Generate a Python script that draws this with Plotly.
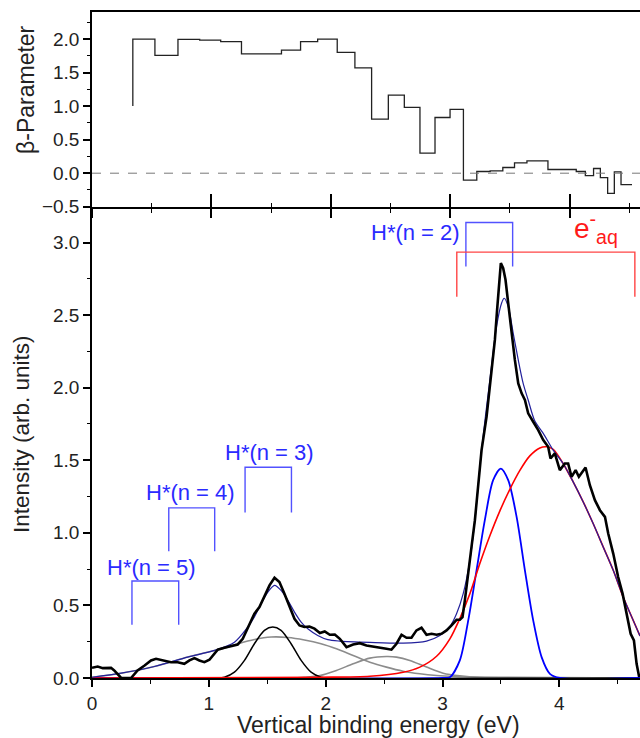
import plotly.graph_objects as go

# ---------------- data: beta parameter (top panel) ----------------
beta_edges = [0.342, 0.527, 0.720, 0.902, 1.078, 1.252, 1.587, 1.747, 1.89, 2.054,
              2.202, 2.342, 2.482, 2.616, 2.747, 2.873, 2.999, 3.111, 3.223, 3.335,
              3.441, 3.539, 3.643, 3.819, 4.056, 4.132, 4.201, 4.258, 4.319, 4.375,
              4.431, 4.523]
beta_values = [2.0, 1.757, 1.995, 1.985, 1.96, 1.78, 1.836, 1.96, 2.0, 1.80,
               1.57, 0.806, 1.164, 0.98, 0.30, 0.83, 0.95, -0.104, 0.025, 0.035,
               0.085, 0.154, 0.184, 0.055, 0.025, -0.035, 0.07, -0.065, -0.30, 0.02,
               -0.17]
beta_start = 1.0

# ---------------- data: spectrum (bottom panel) ----------------
exp_energy = [0.0, 0.049, 0.092, 0.163, 0.19, 0.234, 0.25, 0.334, 0.39, 0.45, 0.505, 0.548,
              0.605, 0.676, 0.733, 0.79, 0.834, 0.877, 0.919, 0.962, 1.005, 1.033, 1.076,
              1.133, 1.19, 1.247, 1.29, 1.333, 1.39, 1.433, 1.476, 1.519, 1.562, 1.604,
              1.647, 1.69, 1.733, 1.776, 1.818, 1.861, 1.904, 1.95, 1.992, 2.035, 2.078,
              2.121, 2.178, 2.235, 2.292, 2.349, 2.406, 2.463, 2.52, 2.563, 2.606, 2.649,
              2.692, 2.734, 2.777, 2.82, 2.863, 2.906, 2.949, 2.991, 3.034, 3.077, 3.12,
              3.148, 3.171, 3.191, 3.22, 3.248, 3.277, 3.334, 3.377, 3.419, 3.448, 3.467,
              3.485, 3.499, 3.519, 3.539, 3.562, 3.591, 3.619, 3.648, 3.677, 3.705, 3.733,
              3.776, 3.819, 3.862, 3.904, 3.924, 3.961, 4.004, 4.047, 4.075, 4.104, 4.139,
              4.167, 4.224, 4.261, 4.304, 4.347, 4.39, 4.418, 4.461, 4.503, 4.541, 4.575,
              4.61, 4.638, 4.661, 4.683]
exp_intensity = [0.07, 0.079, 0.068, 0.07, 0.052, 0.017, 0.0, 0.0, 0.052, 0.086, 0.121, 0.132,
                 0.121, 0.109, 0.109, 0.098, 0.121, 0.137, 0.121, 0.109, 0.126, 0.155, 0.195,
                 0.208, 0.217, 0.231, 0.27, 0.34, 0.443, 0.489, 0.558, 0.638, 0.691, 0.661,
                 0.581, 0.489, 0.408, 0.362, 0.351, 0.355, 0.34, 0.31, 0.321, 0.298, 0.3,
                 0.27, 0.213, 0.231, 0.24, 0.224, 0.217, 0.213, 0.201, 0.195, 0.236, 0.298,
                 0.277, 0.277, 0.328, 0.346, 0.298, 0.305, 0.298, 0.305, 0.328, 0.362, 0.401,
                 0.401, 0.42, 0.535, 0.742, 0.903, 1.087, 1.57, 1.8, 2.099, 2.329, 2.536,
                 2.72, 2.858, 2.823, 2.743, 2.582, 2.375, 2.191, 2.03, 1.961, 1.915, 1.823,
                 1.765, 1.708, 1.639, 1.593, 1.512, 1.547, 1.432, 1.478, 1.478, 1.386, 1.432,
                 1.386, 1.45, 1.328, 1.225, 1.156, 1.11, 0.995, 0.857, 0.696, 0.581, 0.443,
                 0.305, 0.259, 0.098, 0.006]

fit_energy = [0.0, 0.25, 0.534, 0.819, 1.048, 1.219, 1.333, 1.39, 1.447, 1.505, 1.562, 1.618,
              1.676, 1.733, 1.79, 1.847, 1.932, 2.018, 2.121, 2.378, 2.663, 2.863, 2.977,
              3.063, 3.12, 3.177, 3.234, 3.277, 3.334, 3.405, 3.462, 3.505, 3.528, 3.562,
              3.605, 3.648, 3.69, 3.733, 3.79, 3.862, 3.947, 4.032, 4.118, 4.204, 4.289,
              4.375, 4.461, 4.546, 4.632, 4.69]
fit_intensity = [0.005, 0.033, 0.079, 0.144, 0.19, 0.247, 0.351, 0.42, 0.512, 0.592, 0.638, 0.604,
                 0.535, 0.454, 0.385, 0.339, 0.293, 0.264, 0.254, 0.245, 0.24, 0.254, 0.293,
                 0.355, 0.443, 0.581, 0.811, 1.087, 1.57, 2.053, 2.42, 2.582, 2.616, 2.559,
                 2.375, 2.191, 2.03, 1.915, 1.77, 1.685, 1.57, 1.478, 1.351, 1.213, 1.064,
                 0.903, 0.742, 0.558, 0.397, 0.29]

eaq_energy = [0.0, 1.95, 2.378, 2.663, 2.806, 2.949, 3.063, 3.148, 3.234, 3.32, 3.405, 3.49,
              3.576, 3.662, 3.747, 3.833, 3.89, 3.947, 4.032, 4.118, 4.204, 4.289, 4.375,
              4.461, 4.546, 4.632, 4.69]
eaq_intensity = [0.0, 0.005, 0.012, 0.04, 0.075, 0.15, 0.27, 0.41, 0.58, 0.79, 0.98, 1.15,
                 1.30, 1.43, 1.53, 1.585, 1.593, 1.575, 1.478, 1.351, 1.213, 1.064, 0.903,
                 0.742, 0.558, 0.397, 0.29]

h2_energy = [0.0, 3.0, 3.063, 3.148, 3.22, 3.291, 3.362, 3.433, 3.499, 3.562, 3.634, 3.705,
             3.776, 3.848, 3.919, 4.004, 4.69]
h2_intensity = [0.0, 0.0, 0.005, 0.121, 0.397, 0.742, 1.087, 1.363, 1.443, 1.363, 1.11, 0.742,
                0.397, 0.144, 0.029, 0.0, 0.0]

h3_energy = [0.0, 1.05, 1.133, 1.219, 1.305, 1.39, 1.476, 1.547, 1.618, 1.704, 1.79, 1.875,
             1.96, 2.05, 4.69]
h3_intensity = [0.0, 0.0, 0.005, 0.04, 0.121, 0.236, 0.328, 0.351, 0.328, 0.236, 0.121, 0.04,
                0.005, 0.0, 0.0]

bg1_energy = [0.0, 0.25, 0.534, 0.819, 1.048, 1.105, 1.247, 1.39, 1.533, 1.676, 1.818, 1.96,
              2.092, 2.235, 2.378, 2.52, 2.663, 2.806, 2.949, 3.091, 3.32, 4.69]
bg1_intensity = [0.005, 0.033, 0.079, 0.144, 0.19, 0.2, 0.235, 0.265, 0.282, 0.279, 0.262, 0.236,
                 0.201, 0.155, 0.109, 0.075, 0.047, 0.029, 0.017, 0.01, 0.005, 0.0]

bg2_energy = [0.0, 1.7, 1.818, 1.95, 2.092, 2.235, 2.378, 2.52, 2.606, 2.72, 2.863, 3.005,
              3.148, 3.32, 4.69]
bg2_intensity = [0.0, 0.0, 0.005, 0.017, 0.052, 0.098, 0.137, 0.148, 0.144, 0.121, 0.075, 0.033,
                 0.015, 0.005, 0.0]

# level markers (H* Rydberg states, e-aq)
h_labels = ["H*(n = 5)", "H*(n = 4)", "H*(n = 3)", "H*(n = 2)"]
h_label_x = [0.51, 0.843, 1.52, 2.765]
h_label_y = [0.762, 1.275, 1.555, 3.066]
h_br_left = [0.342, 0.657, 1.310, 3.20]
h_br_right = [0.742, 1.050, 1.707, 3.60]
h_br_top = [0.668, 1.172, 1.452, 3.138]
h_br_bottom = [0.367, 0.873, 1.141, 2.834]

eaq_br = dict(left=3.122, right=4.646, top=2.934, bottom=2.627)
eaq_label = dict(x=4.313, y=3.10)

# ---------------- figure ----------------
FONT = "Liberation Sans, Arial, Helvetica, sans-serif"
fig = go.Figure()

# top panel step line
sx = [beta_edges[0]] + beta_edges
sy = [beta_start] + beta_values + [beta_values[-1]]
fig.add_trace(go.Scatter(x=sx, y=sy, xaxis="x2", yaxis="y2", mode="lines",
                         line=dict(color="#222222", width=1.3, shape="hv"),
                         hoverinfo="skip"))
fig.add_shape(type="line", xref="x2 domain", yref="y2", x0=0, x1=1, y0=0, y1=0,
              line=dict(color="#777777", width=1, dash="dash"))

# bottom panel curves
def curve(x, y, color, width, shape="spline"):
    fig.add_trace(go.Scatter(x=x, y=y, xaxis="x", yaxis="y", mode="lines",
                             line=dict(color=color, width=width, shape=shape,
                                       smoothing=0.8 if shape == "spline" else None),
                             hoverinfo="skip"))

curve(bg1_energy, bg1_intensity, "#8c8c8c", 1.6)
curve(bg2_energy, bg2_intensity, "#8c8c8c", 1.6)
curve(h3_energy, h3_intensity, "#000000", 1.5)
curve(h2_energy, h2_intensity, "#0000ff", 1.8)
curve(eaq_energy, eaq_intensity, "#ff0000", 1.6)
curve(fit_energy, fit_intensity, "#22209c", 1.2)
curve(exp_energy, exp_intensity, "#000000", 2.6, shape="linear")

# brackets
for l, r, t, b in zip(h_br_left, h_br_right, h_br_top, h_br_bottom):
    fig.add_trace(go.Scatter(x=[l, l, r, r], y=[b, t, t, b], xaxis="x", yaxis="y",
                             mode="lines", line=dict(color="#5252ff", width=1.4),
                             hoverinfo="skip"))
fig.add_trace(go.Scatter(x=[eaq_br["left"], eaq_br["left"], eaq_br["right"], eaq_br["right"]],
                         y=[eaq_br["bottom"], eaq_br["top"], eaq_br["top"], eaq_br["bottom"]],
                         xaxis="x", yaxis="y", mode="lines",
                         line=dict(color="#ff4545", width=1.4), hoverinfo="skip"))

annotations = []
for txt, x, y in zip(h_labels, h_label_x, h_label_y):
    annotations.append(dict(text=txt, x=x, y=y, xref="x", yref="y", showarrow=False,
                            font=dict(family=FONT, size=22, color="#2a2aff"),
                            xanchor="center", yanchor="middle"))
annotations.append(dict(text="e<sup>-</sup><sub>aq</sub>", x=eaq_label["x"], y=eaq_label["y"],
                        xref="x", yref="y", showarrow=False,
                        font=dict(family=FONT, size=28, color="#ff1a1a"),
                        xanchor="center", yanchor="middle"))
# axis titles
annotations.append(dict(text="Vertical binding energy (eV)", x=0.5228, y=-0.0712,
                        xref="paper", yref="paper", showarrow=False,
                        font=dict(family=FONT, size=23, color="#222222"),
                        xanchor="center", yanchor="middle"))
annotations.append(dict(text="Intensity (arb. units)", x=-0.1287, y=0.367,
                        xref="paper", yref="paper", showarrow=False, textangle=-90,
                        font=dict(family=FONT, size=22.5, color="#222222"),
                        xanchor="center", yanchor="middle"))
annotations.append(dict(text="β-Parameter", x=-0.1214, y=0.8836,
                        xref="paper", yref="paper", showarrow=False, textangle=-90,
                        font=dict(family=FONT, size=23, color="#222222"),
                        xanchor="center", yanchor="middle"))

SPLIT = 0.7075
tickfont = dict(family=FONT, size=19, color="#222222")
fig.update_layout(
    width=640, height=738,
    margin=dict(l=92, r=0, t=12, b=60),
    paper_bgcolor="white", plot_bgcolor="white",
    showlegend=False,
    annotations=annotations,
    xaxis=dict(domain=[0, 1], anchor="y", range=[0, 4.69], dtick=1, tick0=0,
               ticks="outside", ticklen=7, tickwidth=1.5, tickcolor="black",
               minor=dict(ticks="outside", dtick=0.5, ticklen=4, tickwidth=1.2, tickcolor="black"),
               showline=True, linewidth=1.6, linecolor="black", showgrid=False, zeroline=False,
               tickfont=tickfont, ticklabelstandoff=0, automargin=False),
    yaxis=dict(domain=[0, SPLIT], anchor="x", range=[0, 3.246], dtick=0.5, tick0=0,
               tickformat=".1f", ticks="outside", ticklen=7, tickwidth=1.5, tickcolor="black",
               minor=dict(ticks="outside", dtick=0.25, ticklen=3.5, tickwidth=1.2, tickcolor="black"),
               showline=True, linewidth=1.6, linecolor="black", showgrid=False, zeroline=False,
               tickfont=tickfont, automargin=False),
    xaxis2=dict(domain=[0, 1], anchor="y2", range=[0, 4.59], dtick=1, tick0=0,
                ticks="outside", ticklen=9, tickwidth=1.5, tickcolor="black",
                minor=dict(ticks="outside", dtick=0.5, ticklen=4, tickwidth=1.2, tickcolor="black"),
                showticklabels=False, showline=True, linewidth=2, linecolor="black",
                mirror=True, showgrid=False, zeroline=False, automargin=False),
    xaxis3=dict(overlaying="x2", anchor="y2", range=[0, 4.59], dtick=1, tick0=0,
                ticks="inside", ticklen=13, tickwidth=1.5, tickcolor="black",
                minor=dict(ticks="inside", dtick=0.5, ticklen=4, tickwidth=1.2, tickcolor="black"),
                showticklabels=False, showline=False, showgrid=False, zeroline=False,
                automargin=False),
    yaxis2=dict(domain=[SPLIT, 1], anchor="x2", range=[-0.501, 2.403], dtick=0.5, tick0=0,
                tickformat=".1f", ticks="outside", ticklen=7, tickwidth=1.5, tickcolor="black",
                minor=dict(ticks="outside", dtick=0.25, ticklen=3.5, tickwidth=1.2, tickcolor="black"),
                showline=True, linewidth=1.6, linecolor="black", showgrid=False, zeroline=False,
                tickfont=tickfont, automargin=False),
)
# invisible anchor trace so the inner-tick overlay axis renders
fig.add_trace(go.Scatter(x=[0], y=[0], xaxis="x3", yaxis="y2", mode="markers",
                         marker=dict(opacity=0), hoverinfo="skip"))

fig.write_html("out.html", config={"displayModeBar": False},
               post_script="document.body.style.margin='0px';document.body.style.overflow='hidden';")
